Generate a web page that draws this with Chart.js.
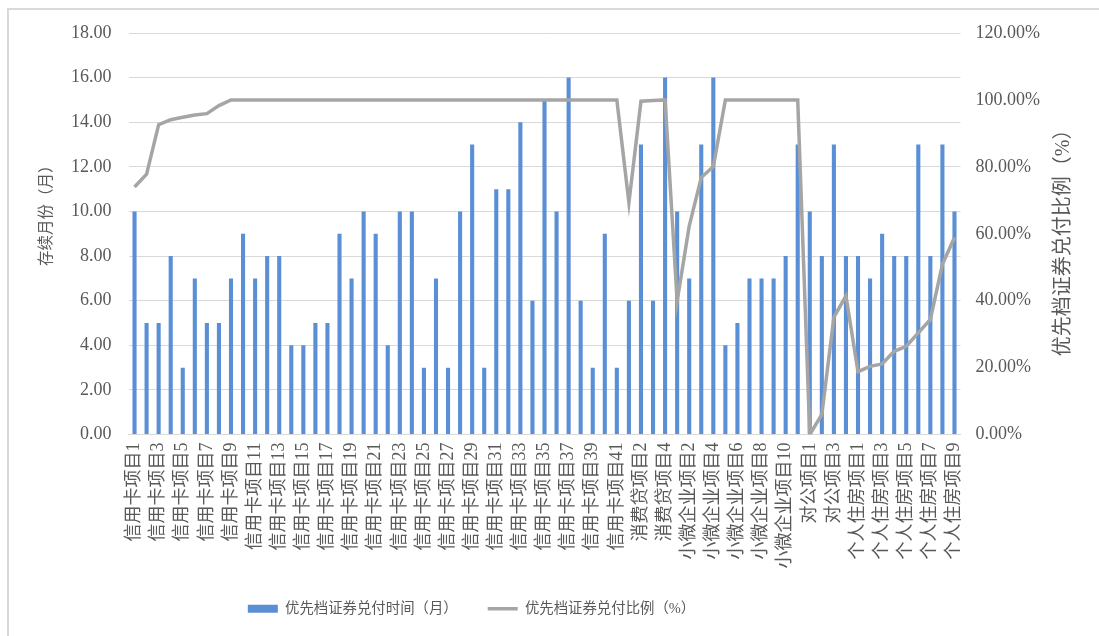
<!DOCTYPE html>
<html>
<head>
<meta charset="utf-8">
<script src="https://cdn.jsdelivr.net/npm/chart.js@4.4.1/dist/chart.umd.min.js"></script>
<style>
  html, body { margin: 0; padding: 0; background: #fff; }
  #wrap { position: relative; width: 1099px; height: 636px; }
  #frame { position: absolute; left: 7px; top: 8px; right: 0; bottom: 0;
           border-left: 2px solid #d9d9d9; border-top: 2px solid #d9d9d9; pointer-events: none; }
</style>
</head>
<body>
<div id="wrap">
  <canvas id="canvas" width="1099" height="636"></canvas>
  <div id="frame"></div>
</div>
<script>
const categories = [
  "信用卡项目1","信用卡项目2","信用卡项目3","信用卡项目4","信用卡项目5","信用卡项目6","信用卡项目7","信用卡项目8",
  "信用卡项目9","信用卡项目10","信用卡项目11","信用卡项目12","信用卡项目13","信用卡项目14","信用卡项目15","信用卡项目16",
  "信用卡项目17","信用卡项目18","信用卡项目19","信用卡项目20","信用卡项目21","信用卡项目22","信用卡项目23","信用卡项目24",
  "信用卡项目25","信用卡项目26","信用卡项目27","信用卡项目28","信用卡项目29","信用卡项目30","信用卡项目31","信用卡项目32",
  "信用卡项目33","信用卡项目34","信用卡项目35","信用卡项目36","信用卡项目37","信用卡项目38","信用卡项目39","信用卡项目40",
  "信用卡项目41",
  "消费贷项目1","消费贷项目2","消费贷项目3","消费贷项目4",
  "小微企业项目1","小微企业项目2","小微企业项目3","小微企业项目4","小微企业项目5","小微企业项目6","小微企业项目7",
  "小微企业项目8","小微企业项目9","小微企业项目10","小微企业项目11",
  "对公项目1","对公项目2","对公项目3","对公项目4",
  "个人住房项目1","个人住房项目2","个人住房项目3","个人住房项目4","个人住房项目5","个人住房项目6","个人住房项目7",
  "个人住房项目8","个人住房项目9"
];

// 优先档证券兑付时间（月）
const months = [
  10, 5, 5, 8, 3, 7, 5, 5, 7, 9,
  7, 8, 8, 4, 4, 5, 5, 9, 7, 10,
  9, 4, 10, 10, 3, 7, 3, 10, 13, 3,
  11, 11, 14, 6, 15, 10, 16, 6, 3, 9,
  3,
  6, 13, 6, 16,
  10, 7, 13, 16, 4, 5, 7, 7, 7, 8, 13,
  10, 8, 13, 8,
  8, 7, 9, 8, 8, 13, 8, 13, 10
];

// 优先档证券兑付比例（%）
const ratio = [
  74.0, 77.8, 92.6, 94.1, 94.8, 95.5, 95.9, 98.3, 100, 100,
  100, 100, 100, 100, 100, 100, 100, 100, 100, 100,
  100, 100, 100, 100, 100, 100, 100, 100, 100, 100,
  100, 100, 100, 100, 100, 100, 100, 100, 100, 100,
  100,
  69.3, 99.6, 99.8, 100,
  39.9, 62.3, 76.8, 80.1, 100, 100, 100, 100, 100, 100, 100,
  0, 6.0, 35.1, 41.4,
  18.8, 20.4, 21.1, 24.9, 26.4, 30.4, 34.4, 50.9, 58.9
];

const monthLabel = "优先档证券兑付时间（月）";
const ratioLabel = "优先档证券兑付比例（%）";
const leftTitle = "存续月份（月）";
const rightTitle = "优先档证券兑付比例（%）";

const fontFamily = "'Liberation Serif', 'Noto Sans CJK SC', serif";
const textGray = "#595959";

// both axis titles read bottom-to-top, a little off the axis centre as in the original
const axisTitles = {
  id: "axisTitles",
  afterDraw(chart) {
    const a = chart.chartArea;
    const c = chart.ctx;
    const mid = (a.top + a.bottom) / 2;
    const put = (text, x, y, size) => {
      c.save();
      c.translate(x, y);
      c.rotate(-Math.PI / 2);
      c.textAlign = "center";
      c.textBaseline = "middle";
      c.fillStyle = textGray;
      c.font = size + "px " + fontFamily;
      c.fillText(text, 0, 0);
      c.restore();
    };
    put(leftTitle, a.left - 82, mid - 22, 15.5);
    put(rightTitle, a.right + 103, mid + 4, 20);
  }
};

// legend sits left of centre and a bit higher in the original
const legendShift = {
  id: "legendShift",
  afterLayout(chart) {
    const l = chart.legend;
    l.left -= 83;
    l.right -= 83;
    l.top -= 5;
    l.bottom -= 5;
  }
};

const ctx = document.getElementById("canvas").getContext("2d");

new Chart(ctx, {
  data: {
    labels: categories,
    datasets: [
      {
        type: "bar",
        label: monthLabel,
        data: months,
        yAxisID: "y",
        backgroundColor: "#5a8fd6",
        borderWidth: 0,
        pointStyle: "rect",
        categoryPercentage: 1,
        barPercentage: 0.34,
        order: 1
      },
      {
        type: "line",
        label: ratioLabel,
        data: ratio,
        yAxisID: "y1",
        borderColor: "#a5a5a5",
        backgroundColor: "#a5a5a5",
        borderWidth: 3.5,
        pointRadius: 0,
        pointStyle: "line",
        tension: 0,
        order: 0
      }
    ]
  },
  options: {
    responsive: false,
    animation: false,
    layout: { padding: { top: 33, left: 54, right: 44, bottom: 5 } },
    plugins: {
      tooltip: { enabled: false },
      legend: {
        position: "bottom",
        labels: {
          usePointStyle: true,
          pointStyleWidth: 30,
          boxWidth: 30,
          boxHeight: 8,
          padding: 30,
          color: textGray,
          font: { size: 14.4, family: fontFamily },
          sort: (a, b) => a.datasetIndex - b.datasetIndex
        }
      }
    },
    scales: {
      x: {
        grid: { display: false, drawTicks: false },
        border: { color: "#d9d9d9", width: 1 },
        ticks: {
          autoSkip: false,
          minRotation: 90,
          maxRotation: 90,
          padding: 8,
          color: textGray,
          font: { size: 18, family: fontFamily },
          callback: (v, i) => (i % 2 === 0 ? categories[i] : "")
        }
      },
      y: {
        position: "left",
        min: 0,
        max: 18,
        grid: { color: "#d9d9d9", drawTicks: false },
        border: { display: false },
        ticks: {
          stepSize: 2,
          padding: 17,
          color: textGray,
          font: { size: 18, family: fontFamily },
          callback: v => v.toFixed(2)
        }
      },
      y1: {
        position: "right",
        min: 0,
        max: 120,
        grid: { display: false, drawTicks: false },
        border: { display: false },
        ticks: {
          stepSize: 20,
          padding: 15,
          color: textGray,
          font: { size: 18, family: fontFamily },
          callback: v => v.toFixed(2) + "%"
        }
      }
    }
  },
  plugins: [axisTitles, legendShift]
});
</script>
</body>
</html>
